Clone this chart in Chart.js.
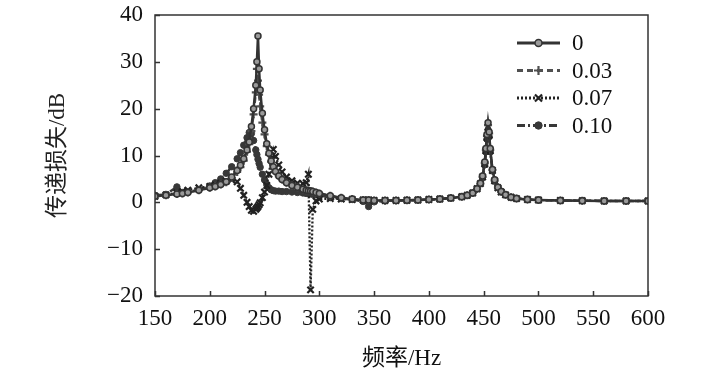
<!DOCTYPE html>
<html>
<head>
<meta charset="utf-8">
<script src="https://cdn.jsdelivr.net/npm/chart.js@4/dist/chart.umd.min.js"></script>
<style>
  html, body { margin: 0; padding: 0; background: #fff; }
  #wrap { width: 709px; height: 383px; }
</style>
</head>
<body>
<div id="wrap"><canvas id="tlChart" width="709" height="383"></canvas></div>
<script>
// frequency grid (Hz), shared by all four curves
var freqHz = [150,160,170,175,180,190,200,205,210,215,220,225,228,231,234,236,238,240,242,243,
  244,245,246,248,250,252,254,256,258,260,263,266,270,275,280,285,288,290,292,294,
  297,300,310,320,330,340,345,350,360,370,380,390,400,410,420,430,435,440,444,447,
  449,451,452,453,454,455,456,458,460,463,466,470,475,480,490,500,520,540,560,580,600];

// transmission loss (dB) for each value of the parameter
var tl_0 = [1.3,1.5,1.8,1.9,2.1,2.6,3.1,3.4,3.8,4.4,5.4,6.8,7.9,9.3,11.2,12.9,16.2,20.0,25.0,30.0,
  35.5,28.5,24.0,19.0,15.5,12.5,10.5,8.8,7.6,6.6,5.6,4.9,4.2,3.6,3.2,2.8,2.6,2.5,2.4,2.3,
  2.1,1.9,1.4,1.0,0.7,0.5,0.5,0.4,0.4,0.4,0.45,0.5,0.6,0.7,0.9,1.2,1.5,2.0,2.9,4.1,
  5.6,8.6,11.5,14.5,17.0,15.0,11.5,7.0,4.8,3.2,2.3,1.6,1.1,0.8,0.6,0.5,0.4,0.35,0.3,0.3,0.3];

var tl_003 = [1.3,1.5,1.8,1.9,2.1,2.6,3.1,3.4,3.8,4.3,5.2,6.5,7.5,8.9,10.8,12.4,15.2,18.8,23.5,28.5,
  26.0,23.0,20.5,17.0,14.5,12.0,10.2,8.7,7.5,6.6,5.6,4.9,4.2,3.6,3.2,2.8,2.6,2.5,2.4,2.3,
  2.1,1.9,1.4,1.0,0.7,0.5,0.5,0.4,0.4,0.4,0.45,0.5,0.6,0.7,0.9,1.2,1.5,2.0,2.9,4.0,
  5.5,8.4,11.2,14.2,16.5,14.7,11.2,6.9,4.7,3.2,2.3,1.6,1.1,0.8,0.6,0.5,0.4,0.35,0.3,0.3,0.3];

var tl_007 = [1.3,1.6,2.0,2.3,2.6,3.1,3.4,3.7,4.1,4.5,4.8,4.4,3.0,1.5,0.0,-0.9,-1.7,-1.9,-1.5,-1.2,
  -0.9,-0.5,-0.1,1.0,2.2,3.6,6.0,9.3,11.3,9.8,8.0,6.5,5.4,4.6,4.1,4.0,4.2,6.0,-18.7,-1.5,
  0.3,0.7,0.8,0.7,0.6,0.5,0.5,0.4,0.4,0.4,0.45,0.5,0.6,0.7,0.9,1.2,1.5,2.0,2.9,4.0,
  5.4,8.2,11.0,13.8,16.0,14.3,11.0,6.8,4.6,3.1,2.2,1.6,1.1,0.8,0.6,0.5,0.4,0.35,0.3,0.3,0.3];

var tl_010 = [1.5,1.7,3.3,2.1,2.2,2.7,3.5,4.2,5.0,6.2,7.6,9.3,10.6,12.2,13.8,14.9,14.7,13.2,11.2,10.2,
  9.2,8.3,7.5,6.0,4.8,3.8,3.1,2.7,2.5,2.4,2.4,2.3,2.3,2.2,2.1,2.0,1.9,1.9,1.8,1.7,
  1.6,1.5,1.0,0.8,0.6,0.2,-0.9,0.1,0.3,0.4,0.45,0.5,0.6,0.7,0.9,1.2,1.5,2.0,2.9,4.0,
  5.3,8.0,10.8,13.5,15.5,14.0,10.8,6.7,4.5,3.1,2.2,1.6,1.1,0.8,0.6,0.5,0.4,0.35,0.3,0.3,0.3];

var seriesLabels = ['0', '0.03', '0.07', '0.10'];
var xTicksHz = [150, 200, 250, 300, 350, 400, 450, 500, 550, 600];
var yTicksDb = [-20, -10, 0, 10, 20, 30, 40];

function pts(vals) {
  return freqHz.map(function(f, i) { return {x: f, y: vals[i]}; });
}

var serifFont = '"Liberation Serif", "Times New Roman", serif';
var titleFont = '"Liberation Serif", "Noto Sans CJK SC", serif';

var datasets = [
  {
    label: seriesLabels[0], data: pts(tl_0),
    borderColor: '#333333', borderWidth: 2.5,
    pointStyle: 'circle', pointRadius: 3, pointBorderWidth: 1.5,
    pointBackgroundColor: '#9a9a9a', pointBorderColor: '#333333'
  },
  {
    label: seriesLabels[1], data: pts(tl_003),
    borderColor: '#505050', borderWidth: 2.5, borderDash: [6, 4],
    pointStyle: 'cross', pointRadius: 4, pointBorderWidth: 2.2,
    pointBackgroundColor: '#505050', pointBorderColor: '#505050'
  },
  {
    label: seriesLabels[2], data: pts(tl_007),
    borderColor: '#222222', borderWidth: 2.3, borderDash: [2, 2],
    pointStyle: 'crossRot', pointRadius: 4.5, pointBorderWidth: 2.2,
    pointBackgroundColor: '#222222', pointBorderColor: '#222222'
  },
  {
    label: seriesLabels[3], data: pts(tl_010),
    borderColor: '#383838', borderWidth: 2.5, borderDash: [8, 3, 2, 3],
    pointStyle: 'circle', pointRadius: 3.2, pointBorderWidth: 1,
    pointBackgroundColor: '#383838', pointBorderColor: '#383838'
  }
];

// frame, inward ticks and the legend inside the plot
var framePlugin = {
  id: 'frame',
  afterDraw: function(chart) {
    var ctx = chart.ctx, a = chart.chartArea;
    var xs = chart.scales.x, ys = chart.scales.y;
    ctx.save();
    ctx.strokeStyle = '#333';
    ctx.lineWidth = 1.5;
    ctx.strokeRect(a.left, a.top, a.right - a.left, a.bottom - a.top);
    ctx.beginPath();
    xTicksHz.forEach(function(v) {
      var px = Math.round(xs.getPixelForValue(v)) + 0.5;
      ctx.moveTo(px, a.bottom); ctx.lineTo(px, a.bottom - 5);
    });
    yTicksDb.forEach(function(v) {
      var py = Math.round(ys.getPixelForValue(v)) + 0.5;
      ctx.moveTo(a.left, py); ctx.lineTo(a.left + 5, py);
    });
    ctx.stroke();

    // legend
    var lx0 = a.right - 131, lx1 = a.right - 88, tx = a.right - 76;
    ctx.font = '23px ' + serifFont;
    ctx.textBaseline = 'middle';
    ctx.textAlign = 'left';
    chart.data.datasets.forEach(function(ds, i) {
      var ly = a.top + 28 + i * 27.5;
      ctx.save();
      ctx.strokeStyle = ds.borderColor;
      ctx.lineWidth = 3;
      ctx.setLineDash(ds.borderDash || []);
      ctx.beginPath(); ctx.moveTo(lx0, ly); ctx.lineTo(lx1, ly); ctx.stroke();
      ctx.setLineDash([]);
      ctx.fillStyle = ds.pointBackgroundColor;
      ctx.strokeStyle = ds.pointBorderColor;
      ctx.lineWidth = ds.pointBorderWidth;
      Chart.helpers.drawPoint(ctx, {pointStyle: ds.pointStyle, radius: ds.pointRadius + 0.5,
        borderWidth: ds.pointBorderWidth, rotation: 0}, (lx0 + lx1) / 2, ly);
      ctx.restore();
      ctx.fillStyle = '#111';
      ctx.fillText(ds.label, tx, ly + 1);
    });
    ctx.restore();
  }
};

new Chart(document.getElementById('tlChart'), {
  type: 'line',
  data: {datasets: datasets},
  plugins: [framePlugin],
  options: {
    responsive: false,
    animation: false,
    layout: {padding: {top: 15, right: 61, left: 0, bottom: 0}},
    plugins: {legend: {display: false}, tooltip: {enabled: false}},
    elements: {line: {tension: 0}},
    scales: {
      x: {
        type: 'linear', min: 150, max: 600,
        afterBuildTicks: function(s) { s.ticks = xTicksHz.map(function(v) { return {value: v}; }); },
        afterFit: function(s) { s.height = 87; s.paddingLeft = 0; s.paddingRight = 0; },
        grid: {display: true, drawOnChartArea: false, drawTicks: false},
        border: {display: false},
        ticks: {color: '#111', padding: 9, maxRotation: 0, autoSkip: false,
          font: {family: serifFont, size: 23}},
        title: {display: true, text: '频率/Hz', color: '#111', padding: {bottom: 10},
          font: {family: titleFont, size: 23}}
      },
      y: {
        type: 'linear', min: -20, max: 40,
        afterBuildTicks: function(s) { s.ticks = yTicksDb.map(function(v) { return {value: v}; }); },
        afterFit: function(s) { s.width = 155; s.paddingTop = 0; s.paddingBottom = 0; },
        grid: {display: true, drawOnChartArea: false, drawTicks: false},
        border: {display: false},
        ticks: {color: '#111', padding: 12, font: {family: serifFont, size: 23},
          callback: function(v) { return v < 0 ? '\u2212' + Math.abs(v) : String(v); }},
        title: {display: true, text: '传递损失/dB', color: '#222', padding: {top: 44},
          font: {family: titleFont, size: 23}}
      }
    }
  }
});
</script>
</body>
</html>
